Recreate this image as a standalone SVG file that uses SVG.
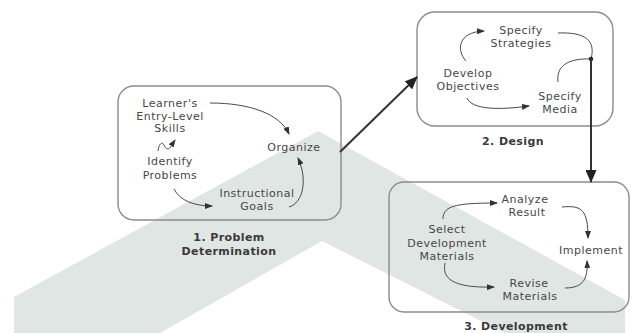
<svg xmlns="http://www.w3.org/2000/svg" width="632" height="333" viewBox="0 0 632 333">
<style>
.t{font-family:"DejaVu Sans","Liberation Sans",sans-serif;font-size:11px;letter-spacing:0.5px;fill:#474747;text-anchor:middle}
.b{font-family:"DejaVu Sans","Liberation Sans",sans-serif;font-size:11px;letter-spacing:0.4px;font-weight:bold;fill:#3a3a3a;text-anchor:middle}
.box{fill:none;stroke:#8c8c8c;stroke-width:1.4}
.c{fill:none;stroke:#4a4a4a;stroke-width:1}
.thick{fill:none;stroke:#333;stroke-width:2}
</style>
<defs>
<marker id="ah" markerUnits="userSpaceOnUse" markerWidth="8" markerHeight="6" refX="7" refY="3" orient="auto">
<path d="M0,0 L8,3 L0,6 Z" fill="#333"/>
</marker>
<marker id="big" markerUnits="userSpaceOnUse" markerWidth="13" markerHeight="11" refX="12" refY="5.5" orient="auto">
<path d="M0,0 L13,5.5 L0,11 Z" fill="#222"/>
</marker>
</defs>
<rect width="632" height="333" fill="#ffffff"/>
<polygon id="watermark" points="14,297 318,131 625,300 625,333 505,333 322,241 160,333 14,333" fill="#e0e6e4"/>

<g id="box1">
<rect class="box" x="118" y="86" width="223" height="134" rx="16"/>
<text class="t" x="170" y="107">Learner's</text>
<text class="t" x="170" y="119.5">Entry-Level</text>
<text class="t" x="170" y="132">Skills</text>
<text class="t" x="170" y="165">Identify</text>
<text class="t" x="170" y="179">Problems</text>
<text class="t" x="294" y="151">Organize</text>
<text class="t" x="257" y="197">Instructional</text>
<text class="t" x="257" y="210">Goals</text>
<text class="b" x="229" y="241">1. Problem</text>
<text class="b" x="229" y="255">Determination</text>
</g>

<g id="box2">
<rect class="box" x="417" y="12" width="196" height="114" rx="18"/>
<text class="t" x="521" y="34">Specify</text>
<text class="t" x="521" y="47">Strategies</text>
<text class="t" x="468" y="77">Develop</text>
<text class="t" x="468" y="90">Objectives</text>
<text class="t" x="560" y="100">Specify</text>
<text class="t" x="560" y="113">Media</text>
<text class="b" x="513" y="145">2. Design</text>
</g>

<g id="box3">
<rect class="box" x="389" y="182" width="240" height="130" rx="15"/>
<text class="t" x="525" y="203">Analyze</text>
<text class="t" x="527" y="216">Result</text>
<text class="t" x="447" y="233">Select</text>
<text class="t" x="447" y="247">Development</text>
<text class="t" x="447" y="260">Materials</text>
<text class="t" x="591" y="254">Implement</text>
<text class="t" x="529" y="287">Revise</text>
<text class="t" x="530" y="300">Materials</text>
<text class="b" x="516" y="330">3. Development</text>
</g>

<g id="connectors">
<path class="c" d="M210,103 C250,103 280,114 289,134" marker-end="url(#ah)"/>
<path class="c" d="M158,151 C159,144 162,141 164,145 C166,150 169,150 171,146 L175,140" marker-end="url(#ah)"/>
<path class="c" d="M174,189 C180,201 195,206 212,206" marker-end="url(#ah)"/>
<path class="c" d="M289,207 C303,203 308,180 298,158" marker-end="url(#ah)"/>

<path class="c" d="M466,61 C456,50 458,32 484,31" marker-end="url(#ah)"/>
<path class="c" d="M467,98 C472,110 500,110 529,106"  marker-end="url(#ah)"/>
<path class="c" d="M558,33 C585,32 596,40 591,59"/>
<path class="c" d="M558,82 C556,66 568,58 591,59"/>
<circle cx="591" cy="59" r="2.2" fill="#222"/>

<path class="c" d="M443,219 C443,206 455,203 497,203" marker-end="url(#ah)"/>
<path class="c" d="M562,207 C582,205 588,210 588,238" marker-end="url(#ah)"/>
<path class="c" d="M445,263 C441,282 460,288 494,287" marker-end="url(#ah)"/>
<path class="c" d="M565,288 C584,288 588,278 587,261" marker-end="url(#ah)"/>

<path class="thick" d="M340,152 L417,77" marker-end="url(#big)"/>
<path class="thick" d="M591,59 L591,182" stroke-width="2.4" marker-end="url(#big)"/>
</g>
</svg>
